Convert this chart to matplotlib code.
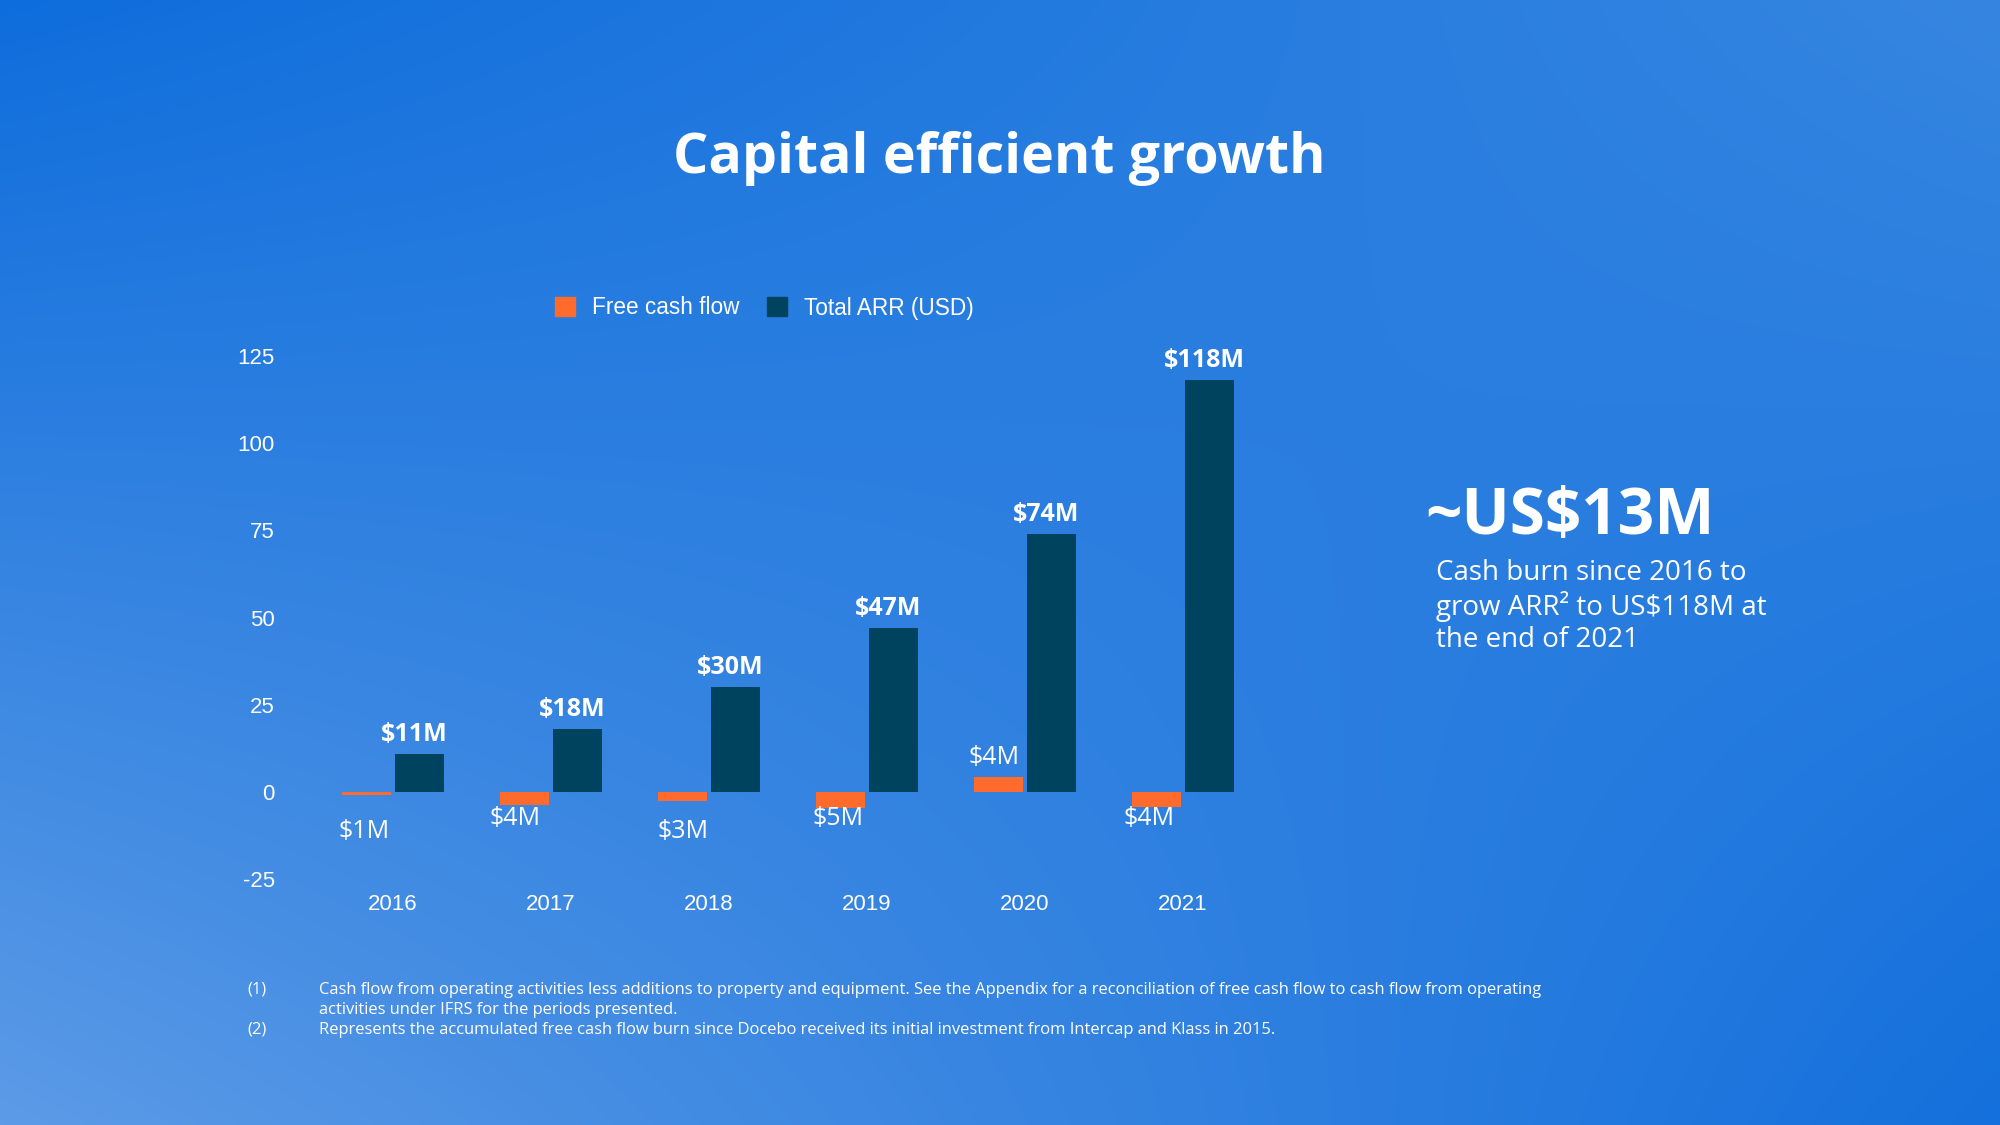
import numpy as np
import matplotlib
matplotlib.use("Agg")
import matplotlib.pyplot as plt
from matplotlib.patches import Patch

# ---- data ----
years = ["2016", "2017", "2018", "2019", "2020", "2021"]
free_cash_flow = [-1.0, -3.6, -2.7, -4.7, 4.3, -4.2]
total_arr = [11, 18, 30, 47, 74, 118]
fcf_labels = ["$1M", "$4M", "$3M", "$5M", "$4M", "$4M"]
arr_labels = ["$11M", "$18M", "$30M", "$47M", "$74M", "$118M"]
y_ticks = [-25, 0, 25, 50, 75, 100, 125]

# label layout (vertical position of the free cash flow labels, in data units)
fcf_label_y = [-11.3, -7.5, -11.3, -7.5, 10.0, -7.7]
fcf_label_dx = [-0.02, -0.06, 0.0, -0.02, -0.03, -0.05]

W, H = 2000, 1125
fig = plt.figure(figsize=(20, 11.25), dpi=100)

# ---- background gradient ----
bg = fig.add_axes([0, 0, 1, 1])
tl = np.array([14, 109, 220]) / 255
tr = np.array([54, 134, 225]) / 255
bl = np.array([92, 155, 231]) / 255
br = np.array([20, 112, 220]) / 255
ny, nx = 200, 356
u = np.linspace(0, 1, nx)[None, :, None]
v = np.linspace(0, 1, ny)[:, None, None]
img = (1 - v) * ((1 - u) * tl + u * tr) + v * ((1 - u) * bl + u * br)
bg.imshow(img, aspect="auto", extent=[0, 1, 0, 1], origin="upper", interpolation="bilinear")
bg.set_axis_off()

# ---- chart axes ----
px_per_cat = 158.0
x0_px = 393.0
ax_left_px, ax_right_px = 290.0, 1260.0
zero_px = 792.0
px_per_unit = 3.488
ax_top_px, ax_bot_px = 340.0, 890.0

ax = fig.add_axes([ax_left_px / W, 1 - ax_bot_px / H,
                   (ax_right_px - ax_left_px) / W, (ax_bot_px - ax_top_px) / H])
ax.set_facecolor("none")
ax.set_xlim(-(x0_px - ax_left_px) / px_per_cat, (ax_right_px - x0_px) / px_per_cat)
ax.set_ylim(-(ax_bot_px - zero_px) / px_per_unit, (zero_px - ax_top_px) / px_per_unit)

x = np.arange(len(years))
bw = 0.31
off = 0.165
orange = "#ff6b2c"
navy = "#00435f"
ax.bar(x - off, free_cash_flow, width=bw, color=orange, label="Free cash flow", zorder=3)
ax.bar(x + off, total_arr, width=bw, color=navy, label="Total ARR (USD)", zorder=3)

for i in range(len(years)):
    ax.text(x[i] + off - 0.03, total_arr[i] + 2.0, arr_labels[i], ha="center", va="bottom",
            color="white", fontsize=18, fontweight="bold", family="Open Sans")
    ax.text(x[i] - off + fcf_label_dx[i], fcf_label_y[i], fcf_labels[i], ha="center", va="center",
            color="white", fontsize=18, family="Open Sans")

for s in ax.spines.values():
    s.set_visible(False)
ax.set_xticks(x)
ax.set_xticklabels(years)
ax.set_yticks(y_ticks)
ax.set_yticklabels([str(t) for t in y_ticks])
ax.tick_params(axis="both", length=0, colors="white", labelsize=16)
ax.tick_params(axis="y", pad=11)
ax.tick_params(axis="x", pad=3)
for lab in ax.get_xticklabels() + ax.get_yticklabels():
    lab.set_family("Liberation Sans")

# legend
handles = [Patch(color=orange), Patch(color=navy)]
leg = fig.legend(handles, ["Free cash flow", "Total ARR (USD)"], loc="center left",
                 bbox_to_anchor=(555 / W, 1 - 308 / H), ncol=2, frameon=False,
                 handlelength=0.9, handleheight=0.9, handletextpad=0.75,
                 columnspacing=1.2, borderpad=0, borderaxespad=0,
                 prop={"family": "Liberation Sans", "size": 16.3})
for t in leg.get_texts():
    t.set_color("white")

# title
fig.text(999 / W, 1 - 159 / H, "Capital efficient growth", ha="center", va="center",
         color="white", fontsize=40, fontweight="bold", family="Open Sans")

# right-side callout
fig.text(1425 / W, 1 - 534 / H, "~US$13M", ha="left", va="baseline",
         color="white", fontsize=46, fontweight="bold", family="Open Sans")
fig.text(1436 / W, 1 - 573 / H, "Cash burn since 2016 to", ha="left", va="center",
         color="white", fontsize=20, family="Open Sans")
fig.text(1436 / W, 1 - 607 / H, "grow ARR\u00b2 to US$118M at", ha="left", va="center",
         color="white", fontsize=20, family="Open Sans")
fig.text(1436 / W, 1 - 640 / H, "the end of 2021", ha="left", va="center",
         color="white", fontsize=20, family="Open Sans")

# footnotes
fn = dict(color="white", fontsize=11.9, family="Open Sans", ha="left", va="center")
fig.text(247 / W, 1 - 990 / H, "(1)", **fn)
fig.text(319 / W, 1 - 990 / H, "Cash flow from operating activities less additions to property and equipment. "
         "See the Appendix for a reconciliation of free cash flow to cash flow from operating", **fn)
fig.text(319 / W, 1 - 1010 / H, "activities under IFRS for the periods presented.", **fn)
fig.text(247 / W, 1 - 1030 / H, "(2)", **fn)
fig.text(319 / W, 1 - 1030 / H, "Represents the accumulated free cash flow burn since Docebo received its "
         "initial investment from Intercap and Klass in 2015.", **fn)

fig.savefig("out.png", dpi=100)
